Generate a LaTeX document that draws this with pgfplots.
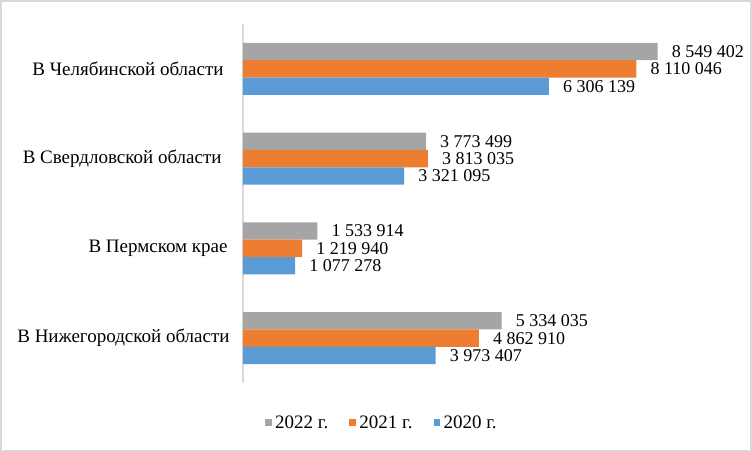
\documentclass[border=0pt]{standalone}
\usepackage{pgfplots}
\pgfplotsset{compat=1.18}
\usepackage{fontspec}
\setmainfont{Liberation Serif}
\definecolor{c2022}{HTML}{A5A5A5}
\definecolor{c2021}{HTML}{ED7D31}
\definecolor{c2020}{HTML}{5B9BD5}
\definecolor{frame}{HTML}{D9D9D9}
\begin{document}
\begin{tikzpicture}[font=\fontsize{19bp}{22bp}\selectfont]
  \begin{axis}[
      xbar, scale only axis,
      width=485bp, height=359bp,
      xmin=0, xmax=10000000,
      ymin=-0.5, ymax=3.5,
      xtick=\empty, scaled x ticks=false,
      hide x axis,
      axis y line*=left,
      y axis line style={draw=frame, line width=1.5bp},
      ytick={0,1,2,3},
      yticklabels={В Нижегородской области,
                   В Пермском крае\hspace*{2bp},
                   В Свердловской области\hspace*{8bp},
                   В Челябинской области\hspace*{6bp}},
      ytick style={draw=none},
      yticklabel style={inner sep=0pt, xshift=-9bp},
      bar width=17.3bp,
      nodes near coords={\pgfmathprintnumber[fixed, precision=0, assume math mode=true, 1000 sep={\ }]{\pgfplotspointmeta}},
      every node near coord/.append style={anchor=west, inner sep=0pt, xshift=14bp,
          font=\fontsize{18bp}{21bp}\selectfont},
      legend style={
          at={(0.0454,-0.110)}, anchor=west,
          draw=none, inner sep=0pt, legend columns=-1,
          nodes={inner sep=0pt},
          /tikz/every odd column/.append style={column sep=3.5bp},
          /tikz/every even column/.append style={column sep=21bp},
          font=\fontsize{19bp}{22bp}\selectfont
      },
      legend image code/.code={\fill[#1] (0bp,-3.25bp) rectangle (6.5bp,3.25bp);},
    ]
    \addplot [draw=none, fill=c2022, bar shift=17.3bp] coordinates {
      (5334035,0) (1533914,1) (3773499,2) (8549402,3)};
    \addplot [draw=none, fill=c2021, bar shift=0bp] coordinates {
      (4862910,0) (1219940,1) (3813035,2) (8110046,3)};
    \addplot [draw=none, fill=c2020, bar shift=-17.3bp] coordinates {
      (3973407,0) (1077278,1) (3321095,2) (6306139,3)};
    \legend{2022 г., 2021 г., 2020 г.}
  \end{axis}
  \draw[frame, line width=2bp]
    ([shift={(-242bp,-68bp)}]current axis.south west) rectangle
    ([shift={(508bp,382bp)}]current axis.south west);
\end{tikzpicture}
\end{document}
